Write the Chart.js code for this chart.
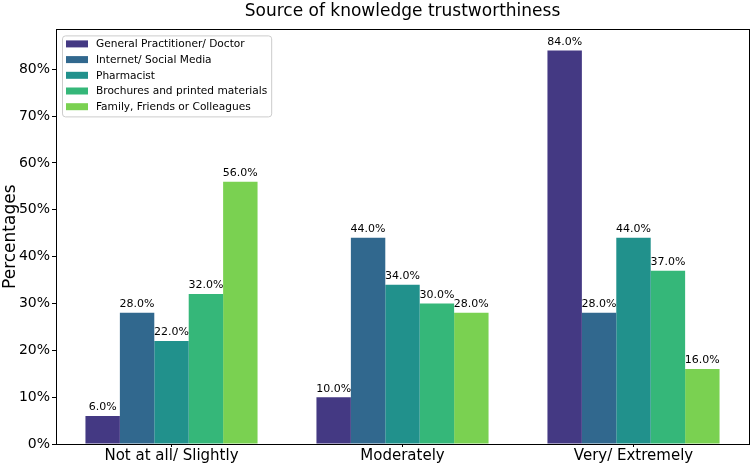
<!DOCTYPE html>
<html>
<head>
<meta charset="utf-8">
<script src="https://cdn.jsdelivr.net/npm/chart.js@4"></script>
<style>
  html, body { margin: 0; padding: 0; background: #fff; }
  #wrap { width: 751px; height: 464px; }
</style>
</head>
<body>
<div id="wrap"><canvas id="myChart" width="751" height="464"></canvas></div>
<script>
// categories and series
var categories = ['Not at all/ Slightly', 'Moderately', 'Very/ Extremely'];
var seriesNames = ['General Practitioner/ Doctor', 'Internet/ Social Media', 'Pharmacist',
                   'Brochures and printed materials', 'Family, Friends or Colleagues'];
var doctor = [6, 10, 84];
var internet = [28, 44, 28];
var pharmacist = [22, 34, 44];
var brochures = [32, 30, 37];
var family = [56, 28, 16];
var yTicks = [0, 10, 20, 30, 40, 50, 60, 70, 80];

var colors = ['#443983', '#31688e', '#21918c', '#35b779', '#7ad151'];
var font = 'DejaVu Sans';

// box round the plot (matplotlib spines)
var frame = {
    id: 'frame',
    afterDraw: function(chart) {
        var ctx = chart.ctx;
        var a = chart.chartArea;
        ctx.save();
        ctx.strokeStyle = '#000';
        ctx.lineWidth = 1;
        ctx.strokeRect(Math.round(a.left) + 0.5, Math.round(a.top) + 0.5,
                       Math.round(a.right - a.left), Math.round(a.bottom - a.top));
        ctx.restore();
    }
};

// legend in the upper left of the plot, matplotlib style
var innerLegend = {
    id: 'innerLegend',
    afterDraw: function(chart) {
        var ctx = chart.ctx;
        var a = chart.chartArea;
        var x0 = a.left + 6, y0 = a.top + 6;
        var rowH = 15.7;
        ctx.save();
        ctx.font = '10.6px "' + font + '"';
        var w = 0;
        chart.data.datasets.forEach(function(ds) {
            w = Math.max(w, ctx.measureText(ds.label).width);
        });
        var boxW = 4 + 22 + 8 + w + 4;
        var boxH = 81;
        ctx.fillStyle = 'rgba(255,255,255,0.8)';
        ctx.strokeStyle = '#cccccc';
        ctx.lineWidth = 1;
        ctx.beginPath();
        ctx.roundRect(x0 + 0.5, y0 + 0.5, boxW, boxH, 3);
        ctx.fill();
        ctx.stroke();
        ctx.textBaseline = 'middle';
        ctx.textAlign = 'left';
        chart.data.datasets.forEach(function(ds, i) {
            var cy = y0 + 8.5 + rowH * i;
            ctx.fillStyle = ds.backgroundColor;
            ctx.fillRect(x0 + 4, cy - 3.5, 22, 7);
            ctx.fillStyle = '#000';
            ctx.fillText(ds.label, x0 + 34, cy + 0.5);
        });
        ctx.restore();
    }
};

// value labels above bars
var barLabels = {
    id: 'barLabels',
    afterDatasetsDraw: function(chart) {
        var ctx = chart.ctx;
        ctx.save();
        ctx.font = '11px "' + font + '"';
        ctx.fillStyle = '#000';
        ctx.textAlign = 'center';
        ctx.textBaseline = 'bottom';
        chart.data.datasets.forEach(function(ds, i) {
            chart.getDatasetMeta(i).data.forEach(function(bar, j) {
                ctx.fillText(ds.data[j].toFixed(1) + '%', bar.x, bar.y - 3);
            });
        });
        ctx.restore();
    }
};

var series = [doctor, internet, pharmacist, brochures, family];
var datasets = series.map(function(vals, i) {
    return {
        label: seriesNames[i],
        data: vals,
        backgroundColor: colors[i],
        borderWidth: 0,
        barPercentage: 1.0,
        categoryPercentage: 0.745
    };
});

var chart = new Chart(document.getElementById('myChart'), {
    type: 'bar',
    data: { labels: categories, datasets: datasets },
    plugins: [frame, barLabels, innerLegend],
    options: {
        responsive: false,
        animation: false,
        layout: { padding: { right: 2, left: 0, top: 0, bottom: 0 } },
        plugins: {
            title: {
                display: true,
                fullSize: false,
                text: 'Source of knowledge trustworthiness',
                color: '#000',
                font: { family: font, size: 17, weight: 'normal' },
                padding: { top: 1, bottom: 8 }
            },
            legend: { display: false },
            tooltip: { enabled: false }
        },
        scales: {
            x: {
                grid: { drawOnChartArea: false, offset: false, tickLength: 3, color: '#000' },
                border: { color: '#000' },
                ticks: { color: '#000', font: { family: font, size: 15 }, padding: 0 },
                afterFit: function(s) { s.height = 20; }
            },
            y: {
                min: 0,
                max: 88.5,
                grid: { drawOnChartArea: false, tickLength: 4, color: '#000' },
                border: { color: '#000' },
                ticks: {
                    color: '#000',
                    font: { family: font, size: 14 },
                    padding: 2,
                    stepSize: 10,
                    callback: function(v) { return v + '%'; }
                },
                afterBuildTicks: function(s) {
                    s.ticks = yTicks.map(function(v) { return { value: v }; });
                },
                title: {
                    display: true,
                    text: 'Percentages',
                    color: '#000',
                    font: { family: font, size: 17 },
                    padding: { top: 0, bottom: 0 }
                },
                afterFit: function(s) { s.width = 56; }
            }
        }
    }
});
</script>
</body>
</html>
